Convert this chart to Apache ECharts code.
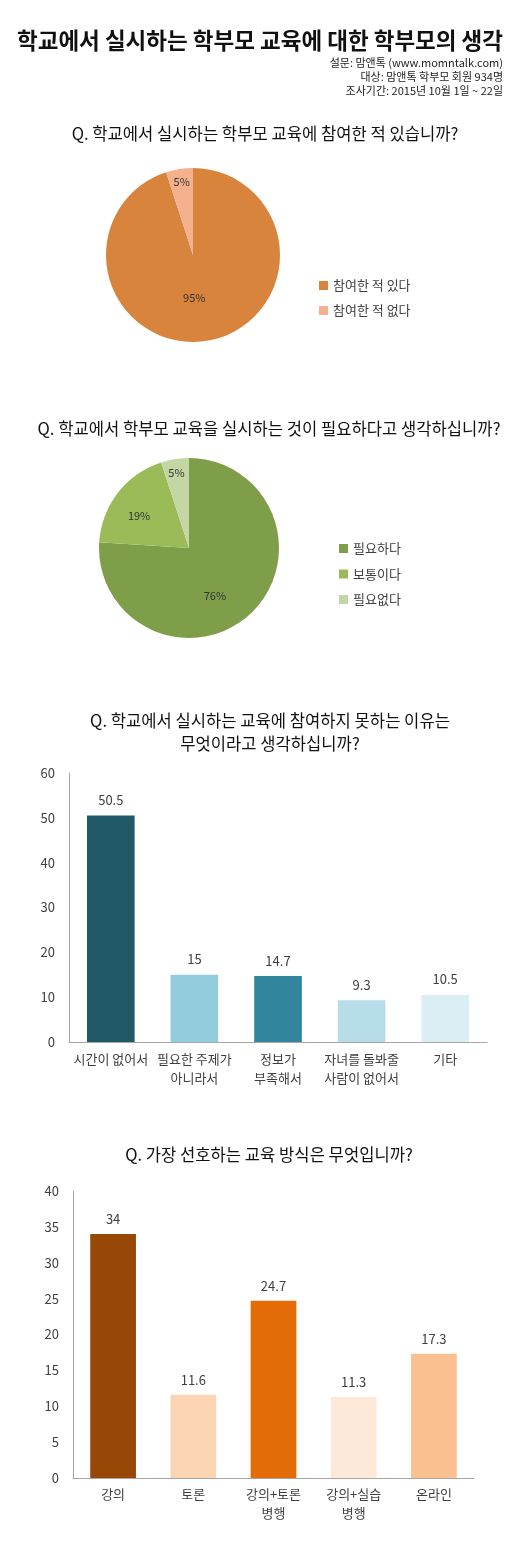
<!DOCTYPE html>
<html>
<head>
<meta charset="utf-8">
<script src="https://cdn.jsdelivr.net/npm/echarts@6/dist/echarts.min.js"></script>
<style>
  html, body { margin: 0; padding: 0; background: #fff; }
</style>
</head>
<body>
<div id="main" style="width:520px;height:1551px;"></div>
<script>
// data
var pie1Names = ['참여한 적 있다', '참여한 적 없다'];
var pie1Values = [95, 5];
var pie1Colors = ['#D8843C', '#F5B08E'];

var pie2Names = ['필요하다', '보통이다', '필요없다'];
var pie2Values = [76, 19, 5];
var pie2Colors = ['#7F9E4A', '#9BBB59', '#C4D6A4'];

var bar1Cats = ['시간이 없어서', '필요한 주제가\n아니라서', '정보가\n부족해서', '자녀를 돌봐줄\n사람이 없어서', '기타'];
var bar1Values = [50.5, 15, 14.7, 9.3, 10.5];
var bar1Colors = ['#215968', '#93CDDD', '#31859C', '#B7DEE8', '#DBEEF4'];

var bar2Cats = ['강의', '토론', '강의+토론\n병행', '강의+실습\n병행', '온라인'];
var bar2Values = [34, 11.6, 24.7, 11.3, 17.3];
var bar2Colors = ['#974706', '#FBD4B4', '#E36C09', '#FDE9D9', '#FAC090'];

var FONT = '"Noto Sans CJK KR", "Noto Sans", sans-serif';
var TXT = '#404040';

// small nudges for the percentage labels inside the pies
var pie1Offs = [[-6, -3], [-4, -27]];
var pie2Offs = [[-7, 13], [-12, -3], [-5, -28]];

function pieData(names, values, colors, offs) {
    return names.map(function (n, i) {
        return {
            name: n, value: values[i],
            itemStyle: { color: colors[i] },
            label: { offset: offs[i] }
        };
    });
}
function barData(values, colors) {
    return values.map(function (v, i) {
        return { value: v, itemStyle: { color: colors[i] } };
    });
}

var chart = echarts.init(document.getElementById('main'));

var axisLabelStyle = { color: TXT, fontSize: 13, fontFamily: FONT };
var axisLineStyle = { show: true, lineStyle: { color: '#A6A6A6', width: 1 } };
var qStyle = { fontSize: 16.6, fontWeight: 'normal', color: '#111', lineHeight: 23, fontFamily: FONT };

var option = {
    backgroundColor: '#fff',
    animation: false,
    title: [
        { text: '학교에서 실시하는 학부모 교육에 대한 학부모의 생각', left: 260, top: 29, textAlign: 'center', padding: 0,
          textStyle: { fontSize: 22.5, fontWeight: 'bold', color: '#111', fontFamily: FONT } },
        { text: '설문: 맘앤톡 (www.momntalk.com)\n대상: 맘앤톡 학부모 회원 934명\n조사기간: 2015년 10월 1일 ~ 22일',
          left: 503, top: 56, textAlign: 'right', padding: 0,
          textStyle: { fontSize: 11, fontWeight: 'normal', color: '#222', lineHeight: 14, fontFamily: FONT } },
        { text: 'Q. 학교에서 실시하는 학부모 교육에 참여한 적 있습니까?', left: 260, top: 117, textAlign: 'center',
          textStyle: qStyle },
        { text: 'Q. 학교에서 학부모 교육을 실시하는 것이 필요하다고 생각하십니까?', left: 264, top: 412, textAlign: 'center',
          textStyle: qStyle },
        { text: 'Q. 학교에서 실시하는 교육에 참여하지 못하는 이유는\n무엇이라고 생각하십니까?', left: 265, top: 704, textAlign: 'center',
          textStyle: qStyle },
        { text: 'Q. 가장 선호하는 교육 방식은 무엇입니까?', left: 264, top: 1138, textAlign: 'center',
          textStyle: qStyle }
    ],
    legend: [
        { data: pie1Names, orient: 'vertical', left: 314, top: 274, itemWidth: 9, itemHeight: 9, itemGap: 12,
          icon: 'rect', textStyle: { fontSize: 13, color: TXT, fontFamily: FONT } },
        { data: pie2Names, orient: 'vertical', left: 334, top: 537, itemWidth: 9, itemHeight: 9, itemGap: 12.5,
          icon: 'rect', textStyle: { fontSize: 13, color: TXT, fontFamily: FONT } }
    ],
    grid: [
        { left: 69, right: 33, top: 773, height: 269 },
        { left: 73, right: 46, top: 1191, height: 287 }
    ],
    xAxis: [
        { type: 'category', gridIndex: 0, data: bar1Cats, axisLine: axisLineStyle, axisTick: { show: false },
          axisLabel: Object.assign({ interval: 0, margin: 8, lineHeight: 19 }, axisLabelStyle) },
        { type: 'category', gridIndex: 1, data: bar2Cats, axisLine: axisLineStyle, axisTick: { show: false },
          axisLabel: Object.assign({ interval: 0, margin: 7, lineHeight: 19 }, axisLabelStyle) }
    ],
    yAxis: [
        { type: 'value', gridIndex: 0, min: 0, max: 60, interval: 10, axisLine: axisLineStyle, axisTick: { show: false },
          splitLine: { show: false }, axisLabel: Object.assign({ margin: 14 }, axisLabelStyle) },
        { type: 'value', gridIndex: 1, min: 0, max: 40, interval: 5, axisLine: axisLineStyle, axisTick: { show: false },
          splitLine: { show: false }, axisLabel: Object.assign({ margin: 14 }, axisLabelStyle) }
    ],
    series: [
        { type: 'pie', center: [193, 255], radius: 87, startAngle: 90, clockwise: true,
          data: pieData(pie1Names, pie1Values, pie1Colors, pie1Offs),
          label: { show: true, position: 'inside', formatter: '{c}%', fontSize: 11, color: '#333', fontFamily: FONT },
          labelLine: { show: false }, itemStyle: { borderWidth: 0 }, emphasis: { disabled: true } },
        { type: 'pie', center: [189, 548], radius: 90, startAngle: 90, clockwise: true,
          data: pieData(pie2Names, pie2Values, pie2Colors, pie2Offs),
          label: { show: true, position: 'inside', formatter: '{c}%', fontSize: 11, color: '#333', fontFamily: FONT },
          labelLine: { show: false }, itemStyle: { borderWidth: 0 }, emphasis: { disabled: true } },
        { type: 'bar', xAxisIndex: 0, yAxisIndex: 0, barWidth: '57%', data: barData(bar1Values, bar1Colors),
          label: { show: true, position: 'top', distance: 9, fontSize: 13, color: TXT, fontFamily: FONT } },
        { type: 'bar', xAxisIndex: 1, yAxisIndex: 1, barWidth: '57%', data: barData(bar2Values, bar2Colors),
          label: { show: true, position: 'top', distance: 8, fontSize: 13, color: TXT, fontFamily: FONT } }
    ]
};

chart.setOption(option);
</script>
</body>
</html>
